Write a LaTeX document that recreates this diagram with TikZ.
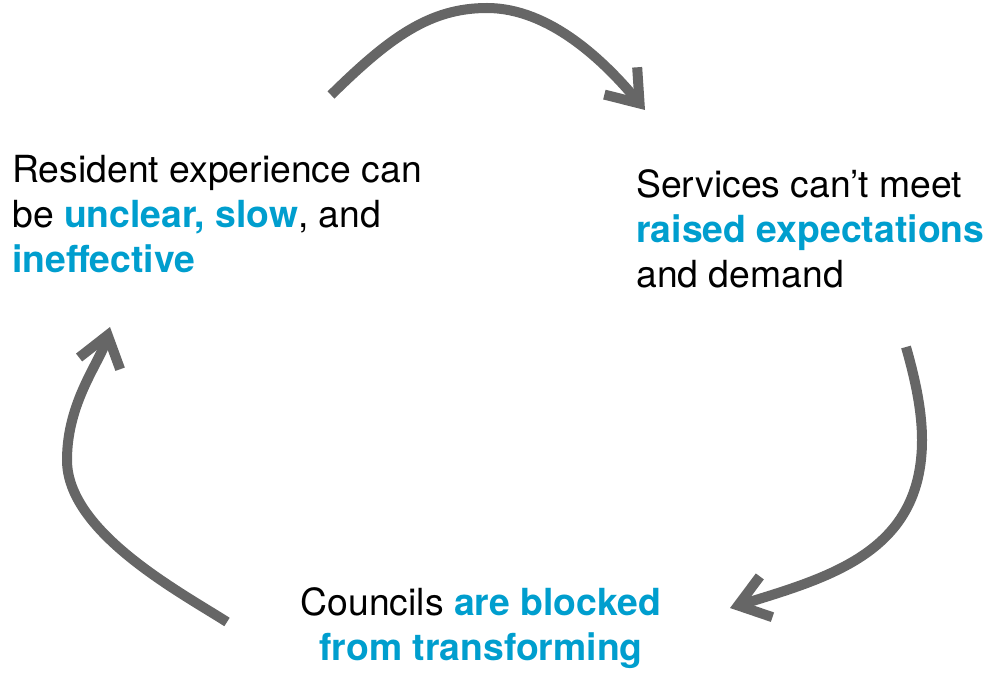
\documentclass[tikz,border=0pt]{standalone}
\usepackage{fontspec}
\setmainfont{TeX Gyre Heros}
\usetikzlibrary{arrows.meta}
\definecolor{cycleblue}{RGB}{0,158,206}
\definecolor{arrowgrey}{RGB}{102,102,102}
\newcommand{\hl}[1]{\textcolor{cycleblue}{\textbf{#1}}}

\begin{document}
\begin{tikzpicture}[x=0.75pt,y=0.75pt]
        \useasboundingbox (0,0) rectangle (988,672);

        % base anchor sits on the last line
        \begin{scope}[every node/.style={inner sep=0, font=\fontsize{28}{33.75}\selectfont}]
                \node [anchor=base west, align=left] (RE) at (12,399) {Resident experience can\\be \hl{unclear,} \hl{slow}, and\\\hl{ineffective}};
                \node [anchor=base west, align=left] (SV) at (636,384) {Services can’t meet\\\hl{raised expectations}\\and demand};
                \node [anchor=base, align=center] (CO) at (481,12) {Councils \hl{are blocked}\\\hl{from transforming}};
        \end{scope}

        \coordinate (T1) at (331,577);
        \coordinate (T2) at (645,562);
        \coordinate (R1) at (906,325);
        \coordinate (R2) at (730,64);
        \coordinate (L1) at (227,50);
        \coordinate (L2) at (110,345);

        \begin{scope}[every path/.style={line width=7.5pt, draw=arrowgrey, -{Straight Barb[length=22pt,width=32pt]}}]
                \path (T1) .. controls (390,635) and (430,664) .. (487,664) .. controls (550,664) and (605,610) .. (T2);
                \path (R1) .. controls (916,290) and (922,260) .. (922,232) .. controls (922,120) and (830,95) .. (R2);
                \path (L1) .. controls (180,80) and (67,140) .. (67,212) .. controls (67,270) and (100,310) .. (L2);
        \end{scope}
\end{tikzpicture}
\end{document}
